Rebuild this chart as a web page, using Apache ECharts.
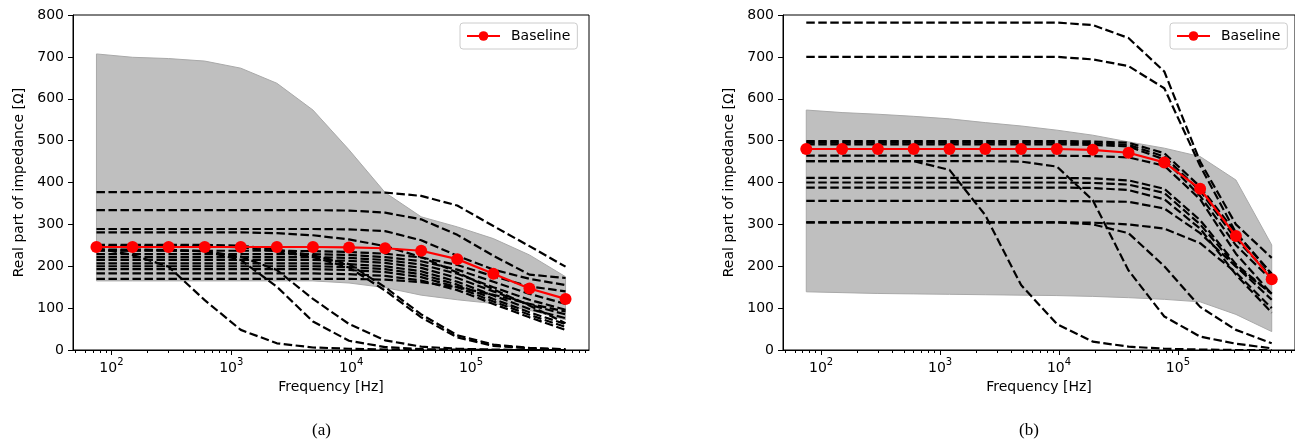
<!DOCTYPE html>
<html lang="en">
<head>
<meta charset="UTF-8">
<title>Real part of impedance</title>
<style>
  *{margin:0;padding:0;}
  html,body{width:100%;height:100%;background:#fff;}
  #main{width:1295px;height:445px;}
</style>
</head>
<body>
<div id="main"></div>
<script src="https://cdn.jsdelivr.net/npm/echarts@6/dist/echarts.min.js"></script>
<script>
// frequencies of the sweep [Hz]
var freqs = [75, 150, 300, 600, 1200, 2400, 4800, 9600, 19200, 38400, 76800, 153600, 307200, 614400];
var majorTicks = [100, 1000, 10000, 100000];
var minorTicks = [50, 60, 70, 80, 90, 200, 300, 400, 500, 600, 700, 800, 900,
  2000, 3000, 4000, 5000, 6000, 7000, 8000, 9000,
  20000, 30000, 40000, 50000, 60000, 70000, 80000, 90000,
  200000, 300000, 400000, 500000, 600000, 700000, 800000, 900000];

// panel (a)
var baseA = [246, 246, 246, 246, 246, 246, 246, 245, 243, 237, 217, 182, 147, 122];
var bandLowA = [165, 165, 165, 165, 165, 165, 165, 160, 149, 131, 120, 111, 95, 72];
var bandHighA = [707, 699, 696, 690, 673, 637, 573, 478, 376, 318, 294, 266, 227, 175];
var linesA = [
  [377, 377, 377, 377, 377, 377, 377, 377, 376, 368, 345, 296, 248, 199],
  [334, 334, 334, 334, 334, 334, 334, 333, 328, 312, 275, 225, 180, 172],
  [289, 289, 289, 289, 289, 289, 289, 288, 284, 262, 225, 192, 170, 155],
  [281, 281, 281, 281, 281, 279, 274, 264, 248, 222, 185, 145, 106, 64],
  [251, 251, 251, 251, 249, 240, 226, 205, 150, 85, 35, 13, 5, 2],
  [248, 248, 248, 248, 245, 236, 222, 197, 142, 78, 30, 10, 4, 1],
  [243, 227, 199, 119, 48, 16, 6, 3, 1, 0, 0, 0, 0, 0],
  [240, 240, 239, 236, 215, 151, 68, 22, 7, 2, 1, 0, 0, 0],
  [238, 238, 238, 236, 223, 191, 122, 62, 23, 8, 3, 1, 0, 0],
  [237, 237, 237, 237, 237, 237, 236, 234, 230, 221, 203, 176, 152, 140],
  [229, 229, 229, 229, 229, 229, 229, 227, 222, 212, 192, 163, 134, 110],
  [222, 222, 222, 222, 222, 222, 222, 220, 215, 204, 182, 150, 120, 96],
  [215, 215, 215, 215, 215, 215, 215, 213, 208, 196, 172, 140, 108, 85],
  [207, 207, 207, 207, 207, 207, 207, 205, 200, 188, 163, 130, 98, 76],
  [200, 200, 200, 200, 200, 200, 200, 198, 193, 181, 156, 122, 90, 62],
  [193, 193, 193, 193, 193, 193, 193, 191, 186, 174, 150, 116, 84, 55],
  [183, 183, 183, 183, 183, 183, 183, 181, 177, 166, 143, 110, 78, 48],
  [170, 170, 170, 170, 170, 170, 170, 170, 168, 162, 150, 132, 110, 92]
];

// panel (b)
var baseB = [480, 480, 480, 480, 480, 480, 480, 480, 478, 471, 448, 385, 272, 169];
var bandLowB = [139, 137, 135, 134, 133, 132, 131, 130, 128, 125, 121, 115, 85, 44];
var bandHighB = [573, 567, 563, 558, 552, 543, 535, 525, 513, 497, 482, 462, 406, 251];
var linesB = [
  [782, 782, 782, 782, 782, 782, 782, 782, 776, 745, 665, 450, 300, 220],
  [700, 700, 700, 700, 700, 700, 700, 700, 694, 678, 625, 440, 280, 182],
  [499, 499, 499, 499, 499, 499, 499, 499, 498, 495, 470, 390, 280, 181],
  [495, 495, 495, 495, 495, 495, 495, 495, 494, 490, 462, 380, 265, 175],
  [491, 491, 491, 491, 491, 491, 491, 491, 490, 486, 455, 368, 250, 167],
  [464, 464, 464, 464, 464, 464, 464, 464, 463, 460, 440, 360, 230, 134],
  [451, 451, 451, 451, 430, 322, 155, 62, 20, 8, 3, 1, 0, 0],
  [451, 451, 451, 451, 451, 451, 450, 438, 358, 190, 80, 32, 15, 4],
  [411, 411, 411, 411, 411, 411, 411, 411, 410, 405, 385, 310, 205, 134],
  [400, 400, 400, 400, 400, 400, 400, 400, 399, 395, 375, 300, 200, 120],
  [388, 388, 388, 388, 388, 388, 388, 388, 387, 382, 360, 290, 180, 89],
  [356, 356, 356, 356, 356, 356, 356, 356, 355, 354, 338, 279, 199, 135],
  [305, 305, 305, 305, 305, 305, 305, 305, 300, 279, 200, 103, 48, 16],
  [305, 305, 305, 305, 305, 305, 305, 305, 304, 300, 290, 255, 185, 100]
];

var FONT = 'DejaVu Sans';
var xMin = 47.79, xMax = 964300;

function pairs(vals) {
  return freqs.map(function (f, i) { return [f, vals[i]]; });
}

function mainX(gi) {
  return {
    type: 'log', gridIndex: gi, min: xMin, max: xMax,
    name: 'Frequency [Hz]', nameLocation: 'middle', nameGap: 30,
    nameTextStyle: {color: '#000', fontSize: 14, fontFamily: FONT},
    axisLine: {lineStyle: {color: '#000', width: 1}},
    axisTick: {length: 5, lineStyle: {color: '#000'}, customValues: majorTicks},
    axisLabel: {
      margin: 7, customValues: majorTicks,
      formatter: function (v) {
        return '{b|10}{s|' + Math.round(Math.log10(v)) + '}';
      },
      rich: {
        b: {fontSize: 14, lineHeight: 18, verticalAlign: 'bottom', color: '#000', fontFamily: FONT},
        s: {fontSize: 10, lineHeight: 8, verticalAlign: 'top', color: '#000', fontFamily: FONT}
      }
    },
    splitLine: {show: false}
  };
}

function minorX(gi) {
  return {
    type: 'log', gridIndex: gi, min: xMin, max: xMax, position: 'bottom',
    axisLine: {show: false},
    axisTick: {length: 3, lineStyle: {color: '#000'}, customValues: minorTicks},
    axisLabel: {show: false},
    splitLine: {show: false}
  };
}

function yAx(gi) {
  return {
    type: 'value', gridIndex: gi, min: 0, max: 800, interval: 100,
    name: 'Real part of impedance [Ω]', nameLocation: 'middle', nameGap: 47,
    nameTextStyle: {color: '#000', fontSize: 14, fontFamily: FONT},
    axisLine: {show: true, lineStyle: {color: '#000', width: 1}},
    axisTick: {show: true, length: 5, lineStyle: {color: '#000'}},
    axisLabel: {color: '#000', fontSize: 14, fontFamily: FONT, margin: 9},
    splitLine: {show: false}
  };
}

function band(low, high, xi, yi) {
  return {
    type: 'custom', xAxisIndex: xi, yAxisIndex: yi, silent: true, z: 1,
    data: [[freqs[0], low[0]]],
    encode: {x: 0, y: 1},
    renderItem: function (params, api) {
      var pts = [];
      high.forEach(function (v, i) { pts.push(api.coord([freqs[i], v])); });
      for (var i = low.length - 1; i >= 0; i--) pts.push(api.coord([freqs[i], low[i]]));
      return {type: 'polygon', shape: {points: pts},
        style: {fill: '#bfbfbf', stroke: '#a9a9a9', lineWidth: 1}};
    }
  };
}

function dashed(vals, xi, yi) {
  return {
    type: 'line', xAxisIndex: xi, yAxisIndex: yi, data: pairs(vals),
    symbol: 'none', silent: true, z: 3, animation: false,
    lineStyle: {color: '#000', width: 2.2, type: [8.5, 3.5]}
  };
}

function baseline(vals, xi, yi) {
  return {
    name: 'Baseline', type: 'line', xAxisIndex: xi, yAxisIndex: yi, data: pairs(vals),
    symbol: 'circle', symbolSize: 12, z: 5,
    lineStyle: {color: '#ff0000', width: 2.2},
    itemStyle: {color: '#ff0000'}
  };
}

function legendAt(left) {
  return {
    data: ['Baseline'], left: left, top: 23, orient: 'vertical',
    itemWidth: 33, itemHeight: 12,
    backgroundColor: '#fff', borderColor: '#cccccc', borderWidth: 1, borderRadius: 3,
    padding: [6, 7, 6, 6],
    textStyle: {color: '#000', fontSize: 14, fontFamily: FONT, padding: [0, 0, 0, 6]}
  };
}

var series = [band(bandLowA, bandHighA, 0, 0), band(bandLowB, bandHighB, 2, 1)];
linesA.forEach(function (l) { series.push(dashed(l, 0, 0)); });
linesB.forEach(function (l) { series.push(dashed(l, 2, 1)); });
series.push(baseline(baseA, 0, 0));
series.push(baseline(baseB, 2, 1));

var chart = echarts.init(document.getElementById('main'));
chart.setOption({
  animation: false,
  backgroundColor: '#fff',
  grid: [
    {left: 73, top: 15, width: 516, height: 335, show: true, borderColor: '#000', borderWidth: 1},
    {left: 783, top: 15, width: 516, height: 335, show: true, borderColor: '#000', borderWidth: 1}
  ],
  xAxis: [mainX(0), minorX(0), mainX(1), minorX(1)],
  yAxis: [yAx(0), yAx(1)],
  legend: [legendAt(460), legendAt(1170)],
  graphic: [
    {type: 'text', left: 312, top: 422, style: {text: '(a)', font: '17px "Liberation Serif"', fill: '#000'}},
    {type: 'text', left: 1019, top: 422, style: {text: '(b)', font: '17px "Liberation Serif"', fill: '#000'}}
  ],
  series: series
});
</script>
</body>
</html>
